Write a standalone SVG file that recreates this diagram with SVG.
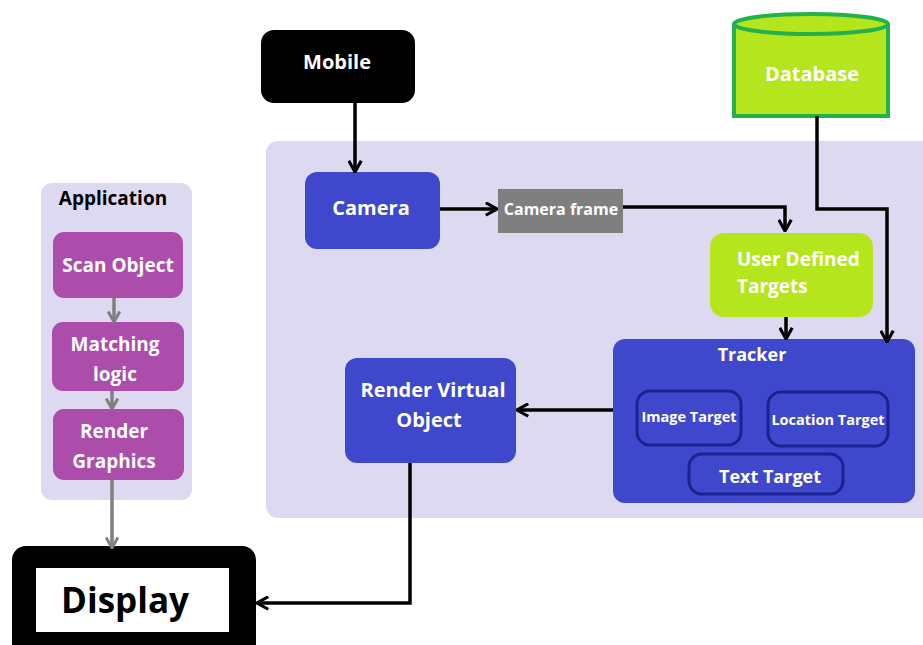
<svg xmlns="http://www.w3.org/2000/svg" width="923" height="645" viewBox="0 0 923 645">
<defs>
<style>
text{font-family:"Open Sans","Noto Sans","DejaVu Sans",sans-serif;font-weight:bold;fill:#fff;}
.c{text-anchor:middle;}
.blk{fill:#000;}
.blue{fill:#3F48CC;}
.purple{fill:#AD4DAB;}
.sub{fill:#3F48CC;stroke:#1A2290;stroke-width:3;}
.conn{fill:none;stroke:#000;stroke-width:3.5;}
.gconn{fill:none;stroke:#7F7F7F;stroke-width:3.5;}
</style>
<marker id="ah" viewBox="0 0 12 12" refX="11" refY="6" markerWidth="15" markerHeight="15" markerUnits="userSpaceOnUse" orient="auto">
<path d="M2,1 L11,6 L2,11" fill="none" stroke="#000" stroke-width="2.5"/>
</marker>
<marker id="ahg" viewBox="0 0 12 12" refX="11" refY="6" markerWidth="14" markerHeight="14" markerUnits="userSpaceOnUse" orient="auto">
<path d="M2,1 L11,6 L2,11" fill="none" stroke="#7F7F7F" stroke-width="2.5"/>
</marker>
</defs>
<rect width="923" height="645" fill="#fff"/>
<g id="panel-main"><rect x="266" y="141" width="670" height="377" rx="12" fill="#DDD9F0"/></g>
<g id="panel-app"><rect x="41" y="183" width="151" height="317" rx="11" fill="#DDD9F0"/>
<text x="113" y="205" class="c blk" font-size="19">Application</text></g>
<g id="scan"><rect x="53" y="232" width="130" height="66" rx="11" class="purple"/>
<text x="118" y="272" class="c" font-size="19">Scan Object</text></g>
<g id="matching"><rect x="52" y="322" width="132" height="69" rx="11" class="purple"/>
<text x="115" y="351" class="c" font-size="19">Matching</text>
<text x="115" y="381" class="c" font-size="19">logic</text></g>
<g id="rendergfx"><rect x="53" y="409" width="131" height="71" rx="11" class="purple"/>
<text x="114" y="438" class="c" font-size="19">Render</text>
<text x="114" y="468" class="c" font-size="19">Graphics</text></g>
<g id="display"><rect x="12" y="546" width="244" height="120" rx="14" fill="#000"/>
<rect x="36" y="568" width="193" height="64" fill="#fff"/>
<text x="125" y="613" class="c blk" font-size="35">Display</text></g>
<g id="mobile"><rect x="261" y="30" width="154" height="73" rx="13" fill="#000"/>
<text x="337" y="69" class="c" font-size="20">Mobile</text></g>
<g id="camera"><rect x="305" y="172" width="135" height="77" rx="12" class="blue"/>
<text x="371" y="215" class="c" font-size="20">Camera</text></g>
<g id="cameraframe"><rect x="498" y="189" width="125" height="44" fill="#7F7F7F"/>
<text x="561" y="215" class="c" font-size="16">Camera frame</text></g>
<g id="udt"><rect x="710" y="233" width="163" height="84" rx="14" fill="#B5E61D"/>
<text x="737" y="266" font-size="19">User Defined</text>
<text x="737" y="293" font-size="19">Targets</text></g>
<g id="database">
<path d="M734,24 L734,116 L888,116 L888,24" fill="#B5E61D" stroke="#22B14C" stroke-width="4"/>
<ellipse cx="811" cy="24" rx="77" ry="10" fill="#B5E61D" stroke="#22B14C" stroke-width="4"/>
<text x="812" y="81" class="c" font-size="20">Database</text></g>
<g id="tracker"><rect x="613" y="339" width="302" height="164" rx="12" class="blue"/>
<text x="752" y="361" class="c" font-size="18">Tracker</text>
<rect x="637" y="391" width="104" height="54" rx="13" class="sub"/>
<text x="689" y="422" class="c" font-size="14.5">Image Target</text>
<rect x="768" y="392" width="120" height="54" rx="13" class="sub"/>
<text x="828" y="425" class="c" font-size="14.5">Location Target</text>
<rect x="689" y="454" width="154" height="40" rx="13" class="sub"/>
<text x="770" y="483" class="c" font-size="18">Text Target</text></g>
<g id="rvo"><rect x="345" y="358" width="171" height="105" rx="12" class="blue"/>
<text x="433" y="397" class="c" font-size="20">Render Virtual</text>
<text x="429" y="427" class="c" font-size="20">Object</text></g>
<g id="connectors">
<path class="conn" d="M355,103 L355,172" marker-end="url(#ah)"/>
<path class="conn" d="M440,209 L497,209" marker-end="url(#ah)"/>
<path class="conn" d="M623,207 L785,207 L785,231" marker-end="url(#ah)"/>
<path class="conn" d="M817,116 L817,209 L887,209 L887,342" marker-end="url(#ah)"/>
<path class="conn" d="M786,317 L786,339" marker-end="url(#ah)"/>
<path class="conn" d="M613,410 L517,410" marker-end="url(#ah)"/>
<path class="conn" d="M410,463 L410,603 L257,603" marker-end="url(#ah)"/>
<path class="gconn" d="M114,298 L114,322" marker-end="url(#ahg)"/>
<path class="gconn" d="M112,391 L112,409" marker-end="url(#ahg)"/>
<path class="gconn" d="M112,480 L112,548" marker-end="url(#ahg)"/>
</g>
</svg>
